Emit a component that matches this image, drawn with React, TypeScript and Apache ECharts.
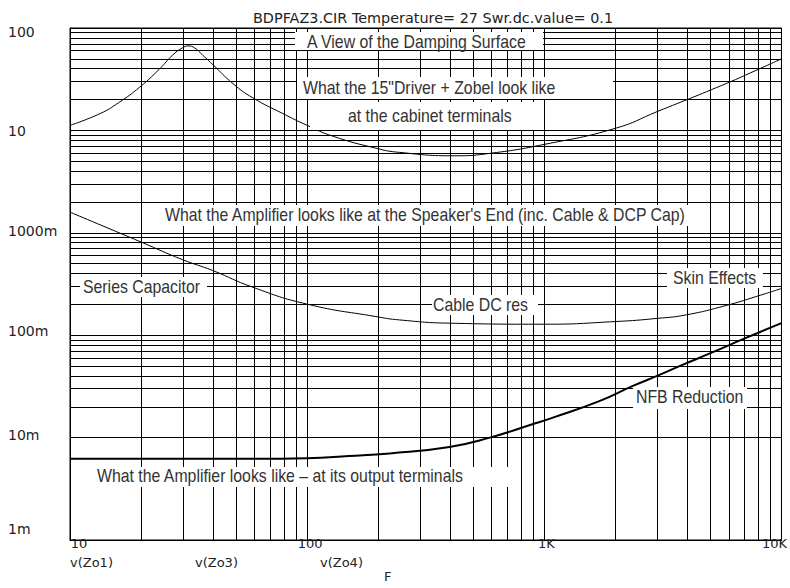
import React, { useEffect, useRef } from 'react';
import * as echarts from 'echarts';

const TITLE = 'BDPFAZ3.CIR Temperature= 27 Swr.dc.value= 0.1';

// x tick labels (Hz) and y tick labels (ohms)
const xTickLabels = ['10', '100', '1K', '10K'];
const yTickLabels = ['1m', '10m', '100m', '1000m', '10', '100'];

// v(Zo1): 15" driver + Zobel at the cabinet terminals
const driverFreq = [10, 13.4, 16, 19.7, 23.9, 27, 29.8, 31.5, 33.5, 37, 40, 48.7, 59, 79, 100, 128, 195, 245, 420, 600, 1000, 2000, 3000, 5600, 7800, 10000];
const driverZ = [11.2, 14.6, 18.6, 26.5, 40, 54, 64, 66.8, 64, 52, 44, 28.6, 20.8, 14.6, 11.2, 8.8, 6.7, 6.1, 5.65, 6.0, 7.3, 10.5, 15.3, 27.5, 38.5, 50];

// v(Zo3): amplifier seen at the speaker's end (cable + DCP cap)
const ampFreq = [10, 20, 29.8, 39.8, 59, 100, 195, 245, 400, 1000, 2000, 3000, 3970, 5840, 7800, 10000];
const ampZ = [1.59, 0.81, 0.547, 0.43, 0.294, 0.201, 0.152, 0.141, 0.131, 0.128, 0.136, 0.146, 0.158, 0.195, 0.238, 0.286];

// v(Zo4): amplifier at its output terminals
const nfbFreq = [10, 50, 100, 150, 223, 398, 589, 891, 1080, 1706, 2350, 2990, 3800, 4960, 7080, 10000];
const nfbZ = [0.0062, 0.0062, 0.0063, 0.0066, 0.007, 0.0081, 0.01, 0.0135, 0.0156, 0.0227, 0.0318, 0.04, 0.051, 0.066, 0.094, 0.131];

const traceNames = ['v(Zo1)', 'v(Zo3)', 'v(Zo4)'];

const notes = [
  { text: 'A View of the Damping Surface', box: [295, 32, 248, 18], x: 307, y: 42 },
  { text: 'What the 15"Driver + Zobel look like', box: [297, 77, 316, 22], x: 303, y: 88 },
  { text: 'at the cabinet terminals', box: [310, 102, 230, 28], x: 348, y: 116 },
  { text: "What the Amplifier looks like at the Speaker's End (inc. Cable & DCP Cap)", box: [145, 205, 550, 21], x: 165, y: 215 },
  { text: 'Series Capacitor', box: [80, 277, 127, 20], x: 83, y: 287 },
  { text: 'Cable DC res', box: [432, 295, 106, 20], x: 433, y: 305 },
  { text: 'Skin Effects', box: [667, 268, 96, 20], x: 673, y: 278 },
  { text: 'NFB Reduction', box: [633, 387, 114, 22], x: 636, y: 397 },
  { text: 'What the Amplifier looks like \u2013 at its output terminals', box: [72, 467, 446, 20], x: 97, y: 476 },
];

const traceLabelPos = [[70, 562], [195, 562], [320, 562]];

const pairs = (xs: number[], ys: number[]) => xs.map((x, i) => [x, ys[i]]);

const minorX: number[] = [];
for (const d of [10, 100, 1000]) for (let k = 2; k <= 9; k++) minorX.push(k * d);
const minorY: number[] = [];
for (const d of [0.001, 0.01, 0.1, 1, 10]) for (let k = 2; k <= 9; k++) minorY.push(+(k * d).toPrecision(3));

const yRich: Record<string, number> = { '100': 4, '10': 1, '1000m': -2, '100m': -4, '10m': -3, '1m': -11 };
const xRich: Record<string, number> = { '10': 9, '100': 3, '1K': 2, '10K': -7 };

const AX_FONT = 'DejaVu Sans';
const NOTE_FONT = '"Liberation Sans", Arial, sans-serif';

export default function App() {
  const ref = useRef<HTMLDivElement>(null);
  useEffect(() => {
    const chart = echarts.init(ref.current!, null, { renderer: 'svg' });
    const yRichStyles: any = {};
    yTickLabels.forEach((t, i) => {
      const d = yRich[t] || 0;
      yRichStyles['y' + i] = {
        fontFamily: AX_FONT, fontSize: 14, color: '#222',
        padding: d >= 0 ? [2 * d, 0, 0, 0] : [0, 0, -2 * d, 0],
      };
    });
    const xRichStyles: any = {};
    xTickLabels.forEach((t, i) => {
      const d = xRich[t] || 0;
      xRichStyles['x' + i] = {
        fontFamily: AX_FONT, fontSize: 13, color: '#222',
        padding: d >= 0 ? [0, 0, 0, 2 * d] : [0, -2 * d, 0, 0],
      };
    });
    const lineBase = { type: 'line', showSymbol: false, symbol: 'none', smooth: 0.5, animation: false, silent: true };
    const option: any = {
      animation: false,
      backgroundColor: '#fff',
      title: {
        text: TITLE, left: 248, top: 6,
        textStyle: { fontFamily: AX_FONT, fontSize: 14.4, fontWeight: 'normal', color: '#222' },
      },
      grid: { left: 70, right: 8, top: 28, bottom: 45, show: true, borderColor: '#000', borderWidth: 1, backgroundColor: 'transparent' },
      xAxis: {
        type: 'log', logBase: 10, min: 10, max: 10000,
        name: 'F', nameLocation: 'middle', nameGap: 30,
        nameTextStyle: { fontFamily: AX_FONT, fontSize: 13, color: '#222', padding: [0, 76, 0, 0] },
        axisLine: { show: true, lineStyle: { color: '#000', width: 1 } },
        axisTick: { show: false },
        splitLine: { show: true, lineStyle: { color: '#000', width: 1 } },
        axisLabel: {
          margin: -3, showMinLabel: true, showMaxLabel: true,
          formatter: (v: number) => {
            const i = Math.round(Math.log10(v)) - 1;
            return '{x' + i + '|' + xTickLabels[i] + '}';
          },
          rich: xRichStyles,
        },
      },
      yAxis: {
        type: 'log', logBase: 10, min: 0.001, max: 100,
        axisLine: { show: true, lineStyle: { color: '#000', width: 1 } },
        axisTick: { show: false },
        splitLine: { show: true, lineStyle: { color: '#000', width: 1 } },
        axisLabel: {
          align: 'left', margin: 62, showMinLabel: true, showMaxLabel: true,
          formatter: (v: number) => {
            const i = Math.round(Math.log10(v)) + 3;
            return '{y' + i + '|' + yTickLabels[i] + '}';
          },
          rich: yRichStyles,
        },
      },
      series: [
        {
          ...lineBase, name: 'grid', data: [], z: 1,
          markLine: {
            silent: true, symbol: ['none', 'none'], animation: false,
            label: { show: false },
            lineStyle: { color: '#000', width: 1, type: 'solid' },
            emphasis: { disabled: true },
            data: [...minorX.map((v) => ({ xAxis: v })), ...minorY.map((v) => ({ yAxis: v }))],
          },
        },
        { ...lineBase, name: traceNames[0], data: pairs(driverFreq, driverZ), lineStyle: { color: '#000', width: 1 }, z: 3 },
        { ...lineBase, name: traceNames[1], data: pairs(ampFreq, ampZ), lineStyle: { color: '#000', width: 1 }, z: 3 },
        { ...lineBase, name: traceNames[2], data: pairs(nfbFreq, nfbZ), lineStyle: { color: '#000', width: 2 }, z: 3 },
      ],
      graphic: [
        ...notes.map((n) => ({
          type: 'group', z: 100, silent: true,
          children: [
            { type: 'rect', z: 100, shape: { x: n.box[0], y: n.box[1], width: n.box[2], height: n.box[3] }, style: { fill: '#fff' } },
            { type: 'text', z: 101, x: n.x, y: n.y, scaleX: 0.88, style: { text: n.text, fontFamily: NOTE_FONT, fontSize: 18, fill: '#333', verticalAlign: 'middle' } },
          ],
        })),
        ...traceNames.map((t, i) => ({
          type: 'text', z: 100, silent: true, x: traceLabelPos[i][0], y: traceLabelPos[i][1],
          style: { text: t, fontFamily: AX_FONT, fontSize: 13, fill: '#222', verticalAlign: 'middle' },
        })),
      ],
    };
    chart.setOption(option);
    return () => chart.dispose();
  }, []);
  return <div ref={ref} style={{ position: 'fixed', left: 0, top: 0, width: 790, height: 588, background: '#fff' }} />;
}
